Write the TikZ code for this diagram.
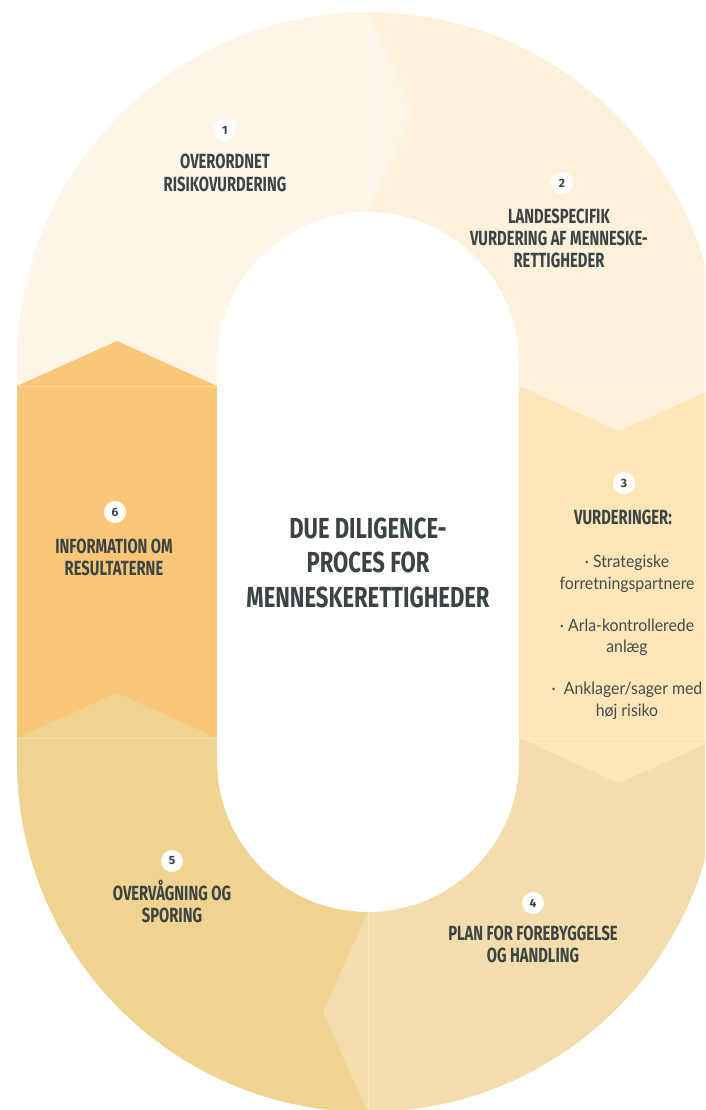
\documentclass[tikz,border=0pt]{standalone}
\usepackage{fontspec}
\setmainfont{Lato}
\newfontfamily\bodyfont{Lato}[FakeStretch=0.93]
\newfontfamily\condfont{Fira Sans}[FakeStretch=0.72]
\newfontfamily\titlefont{Fira Sans}[FakeStretch=0.76]
\newfontfamily\numfont{Fira Sans}
\definecolor{cA}{HTML}{FEF5E9}
\definecolor{cB}{HTML}{FEF1DC}
\definecolor{cC}{HTML}{FEE6B9}
\definecolor{cD}{HTML}{F3DDAC}
\definecolor{cE}{HTML}{F0D291}
\definecolor{cF}{HTML}{FAC779}
\definecolor{ink}{HTML}{3A4445}
\definecolor{inkb}{HTML}{444B4C}
\begin{document}
\begin{tikzpicture}[x=1pt,y=1pt,
  seam/.style={white, opacity=0.3, line width=0.8pt},
  head/.style={font=\condfont\bfseries\fontsize{20.5}{22}\selectfont, text=ink, align=center, anchor=base, inner sep=0pt},
  titletext/.style={font=\titlefont\bfseries\fontsize{29}{34.5}\selectfont, text=ink, align=center, anchor=base, inner sep=0pt},
  body/.style={font=\bodyfont\fontsize{17}{21.5}\selectfont, text=inkb, align=center, anchor=base, inner sep=0pt},
  num/.style={circle, fill=white, minimum size=22pt, inner sep=0pt, font=\numfont\bfseries\fontsize{12}{12}\selectfont, text=ink},
]
\useasboundingbox (0,0) rectangle (705,-1110);
\clip (0,0) rectangle (705,-1110);
% ring segments
\fill[cA] (17,-386) -- (17,-363) arc[start angle=180,end angle=90,radius=351] -- (368,-212) arc[start angle=90,end angle=180,radius=151] -- (217,-386) -- cycle;
\fill[cB] (368,-12) arc[start angle=90,end angle=0,radius=351] -- (719,-386) -- (519,-386) -- (519,-363) arc[start angle=0,end angle=90,radius=151] -- cycle;
\fill[cC] (519,-386) rectangle (719,-738);
\fill[cD] (719,-738) -- (719,-761) arc[start angle=0,end angle=-90,radius=351] -- (368,-912) arc[start angle=-90,end angle=0,radius=151] -- (519,-738) -- cycle;
\fill[cE] (368,-1112) arc[start angle=-90,end angle=-180,radius=351] -- (17,-738) -- (217,-738) -- (217,-761) arc[start angle=180,end angle=270,radius=151] -- cycle;
\fill[cF] (17,-386) rectangle (217,-738);
% chevrons
\fill[cA] (368,-12) -- (413,-112) -- (368,-212) -- cycle;
\fill[cB] (519,-386) -- (619,-431) -- (719,-386) -- cycle;
\fill[cC] (519,-738) -- (619,-783) -- (719,-738) -- cycle;
\fill[cD] (368,-912) -- (323,-1012) -- (368,-1112) -- cycle;
\fill[cE] (17,-738) -- (117,-693) -- (217,-738) -- cycle;
\fill[cF] (17,-386) -- (117,-341) -- (217,-386) -- cycle;
% seams
\draw[seam] (368,-12) -- (368,-212);
\draw[seam] (519,-386) -- (705,-386);
\draw[seam] (519,-738) -- (705,-738);
\draw[seam] (368,-912) -- (368,-1110);
\draw[seam] (17,-738) -- (217,-738);
\draw[seam] (17,-386) -- (217,-386);
% numbers
\node[num] (n1) at (225,-130) {1};
\node[num] (n2) at (562,-183) {2};
\node[num] (n3) at (624,-483) {3};
\node[num] (n4) at (533,-903) {4};
\node[num] (n5) at (172,-861) {5};
\node[num] (n6) at (115,-512) {6};
% labels (anchor = baseline of last line)
\node[head] (l1) at (225,-191) {OVERORDNET\\RISIKOVURDERING};
\node[head] (l2) at (559,-267) {LANDESPECIFIK\\VURDERING AF MENNESKE-\\RETTIGHEDER};
\node[head] (l3) at (623,-524) {VURDERINGER:};
\node[body] (b3) at (627,-716) {· Strategiske\\forretningspartnere\\[20.5pt]· Arla-kontrollerede\\anlæg\\[20.5pt]·\ \ Anklager/sager med\\høj risiko};
\node[head] (l4) at (533,-962) {PLAN FOR FOREBYGGELSE\\OG HANDLING};
\node[head] (l5) at (172,-922) {OVERVÅGNING OG\\SPORING};
\node[head] (l6) at (114,-575) {INFORMATION OM\\RESULTATERNE};
\node[titletext] (t) at (368,-607) {DUE DILIGENCE-\\PROCES FOR\\MENNESKERETTIGHEDER};
\end{tikzpicture}
\end{document}
